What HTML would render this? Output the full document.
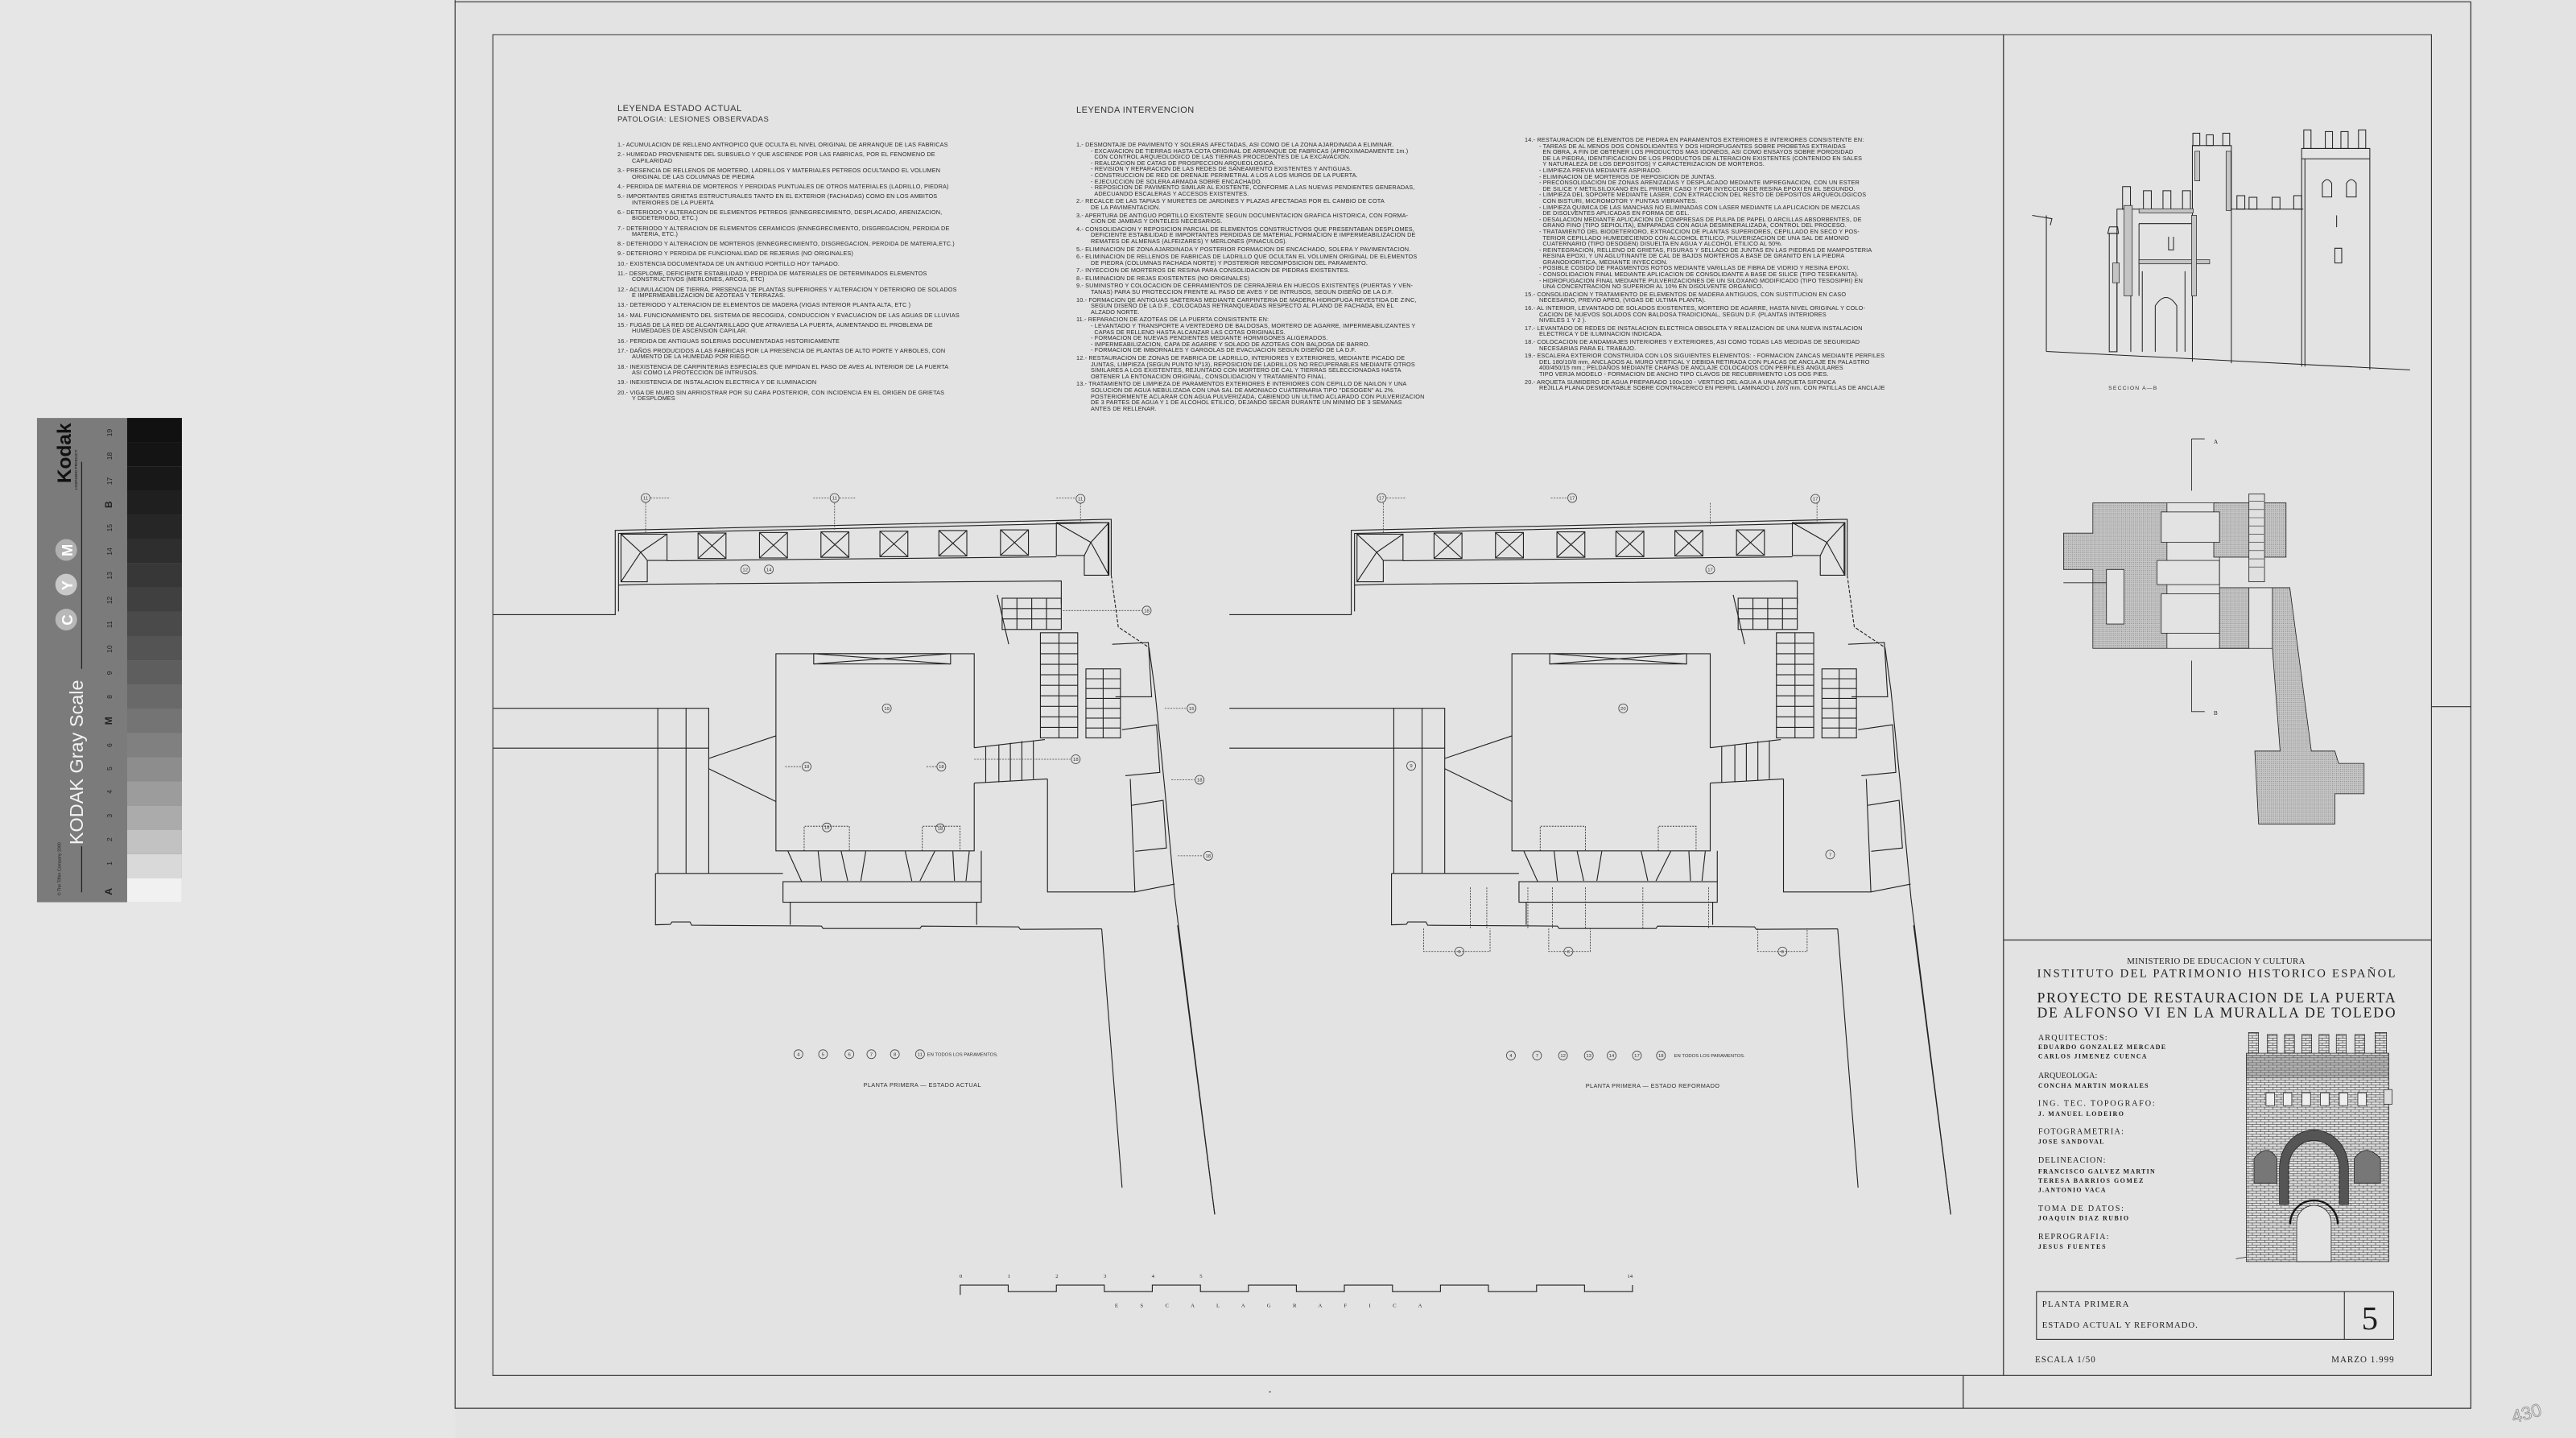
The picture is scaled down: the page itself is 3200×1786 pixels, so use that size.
<!DOCTYPE html>
<html><head><meta charset="utf-8">
<style>
html,body{margin:0;padding:0}
body{width:3200px;height:1786px;background:#e3e3e3;position:relative;overflow:hidden}
svg{position:absolute;left:0;top:0}
.lg{position:absolute;font-family:"Liberation Sans",sans-serif;font-size:7.3px;line-height:7.6px;color:#2a2a2a;white-space:nowrap;letter-spacing:0.15px}
.lg p{margin:0 0 4.6px 0;padding-left:18px;text-indent:-18px}
.lg .h{font-size:11px;line-height:14px;color:#333;letter-spacing:0.5px}
.lg .h2{font-size:9.5px;line-height:14px;color:#333;letter-spacing:0.5px;margin-bottom:20px}
.lg2 p{margin-bottom:2px}
</style></head><body>
<svg width="3200" height="1786" viewBox="0 0 1568 875" xmlns="http://www.w3.org/2000/svg">
<defs>
<pattern id="brick" width="5" height="3" patternUnits="userSpaceOnUse">
<rect width="5" height="3" fill="#e2e2e2"/>
<path d="M0 0.2H5M0 1.7H5M1 0.2V1.7M3.5 1.7V3" stroke="#333" stroke-width="0.3" fill="none"/>
</pattern>
<pattern id="dots" width="1.2" height="1.2" patternUnits="userSpaceOnUse">
<rect width="1.2" height="1.2" fill="#c6c6c6"/><rect width="0.5" height="0.5" fill="#8a8a8a"/>
</pattern>
<g id="plan" fill="none" stroke="#222" stroke-width="0.55">
<polyline points="300.3,374 374.5,374 374.5,322.7 673.5,316 676.4,316 676.4,350"/>
<polyline points="376.5,372 376.5,324.6 674.5,318 674.5,350"/>
<line x1="406" y1="341.2" x2="643" y2="338.8"/>
<polyline points="376.5,356 393,355.5 646,353.5 646,367.7"/>
<g>
<rect x="424.9" y="324.3" width="17" height="15.5"/><path d="M424.9 324.3L441.9 339.8M441.9 324.3L424.9 339.8"/>
<rect x="462.3" y="324" width="17" height="15.5"/><path d="M462.3 324L479.3 339.5M479.3 324L462.3 339.5"/>
<rect x="499.7" y="323.6" width="17" height="15.5"/><path d="M499.7 323.6L516.7 339.1M516.7 323.6L499.7 339.1"/>
<rect x="535.6" y="323.2" width="17" height="15.5"/><path d="M535.6 323.2L552.6 338.7M552.6 323.2L535.6 338.7"/>
<rect x="571.5" y="322.8" width="17" height="15.5"/><path d="M571.5 322.8L588.5 338.3M588.5 322.8L571.5 338.3"/>
<rect x="609" y="322.4" width="17" height="15.5"/><path d="M609 322.4L626 337.9M626 322.4L609 337.9"/>
</g>
<polygon points="378,325 406,325 406,341 394,341 394,354 378,354"/>
<path d="M378 325L390 336L406 325M390 336L394 341M390 336L378 354"/>
<polygon points="643,318 675,318 675,350 660,350 660,338 643,338"/>
<path d="M643 318L664 330L675 318M664 330L660 338M664 330L675 350"/>
<polyline points="676.4,350 680.7,381.5 699.4,394" stroke-dasharray="2,1"/>
<polyline points="699.4,394 703,420 709,480 715.2,546.5 739.4,739"/>
<rect x="610" y="364" width="36" height="19"/>
<path d="M610 370.3H646M610 376.6H646M619 364V383M628 364V383M637 364V383"/>
<path d="M607 362L614 392"/>
<rect x="633.3" y="385" width="22.7" height="64"/>
<path d="M633.3 391.4H656M633.3 397.8H656M633.3 404.2H656M633.3 410.6H656M633.3 417H656M633.3 423.4H656M633.3 429.8H656M633.3 436.2H656M633.3 442.6H656M644.6 385V449"/>
<rect x="661" y="407" width="21" height="42"/>
<path d="M661 413H682M661 419H682M661 425H682M661 431H682M661 437H682M661 443H682M671.5 407V449"/>
<polyline points="677,392 699,391 701,424 679,424"/>
<polyline points="683,444 704,441 706,470 685,472"/>
<polyline points="689,490 708,487 710,516 691,518"/>
<polyline points="637.6,474 637.6,542.75 690.8,542.75 715,538"/>
<line x1="690.8" y1="542.75" x2="688" y2="474"/>
<polyline points="593,455 593,397.75 472.3,397.75 472.3,517.75 593,517.75 593,476.5"/>
<rect x="495.3" y="397.75" width="83.3" height="6.25"/>
<path d="M495.3 397.75L578.6 404M578.6 397.75L495.3 404"/>
<path d="M593 455L636 450M593 476.5L637.6 474M600 454V476M608 453V476M615 452V475M622 451V475M629 451V474"/>
<path d="M300.3 431H431.4V531.5M300.3 455.25H431.4M400.4 431V531.5M417.6 431V531.5"/>
<path d="M431.4 461.5L472.3 447.75M431.4 467.75L472.3 487.75"/>
<polyline points="399,531.5 399,562.75 408,562.5 409,561 420,561 421,563 500,563.5 501,565 560,565 561,563.5 620,564 621,565.5 670.6,565.25"/>
<line x1="399" y1="531.5" x2="476.6" y2="531.5"/>
<rect x="476.6" y="536.5" width="120.7" height="12.5"/>
<path d="M481 549V562.75M594.5 549V562.75"/>
<path d="M479.5 517.75L488 536.5M498 518L500 536M512 518L516 536M524 536L527 518M551 518L555 536M560 536L569 518M580 518L581 536M590 518L588 536M597.3 536.5L597.3 517.75"/>
<path d="M489.5 517.75V502.75H517V517.75M561.4 517.75V502.75H584.4V517.75" stroke-dasharray="1,0.7" stroke-width="0.4"/>
<polyline points="670.6,565.25 683,722.7"/>
</g>
</defs>

<rect x="0" y="0" width="277" height="875" fill="#e6e6e6"/>
<g fill="none" stroke="#333" stroke-width="0.6">
<path d="M277 0V857H1504V1M277 1H1504"/>
<path d="M300 21H1480V837H300Z" stroke-width="0.55"/>
<path d="M1219.5 21V837M1219.5 572H1480M1480 430H1504M1195 837V857"/>
</g>

<rect x="22.5" y="254.3" width="88.2" height="294.7" fill="#7b7b7b"/>
<g>
<rect x="77.4" y="254.3" width="33.3" height="14.75" fill="#111"/>
<rect x="77.4" y="269" width="33.3" height="14.75" fill="#141414"/>
<rect x="77.4" y="283.8" width="33.3" height="14.75" fill="#181818"/>
<rect x="77.4" y="298.5" width="33.3" height="14.75" fill="#1f1f1f"/>
<rect x="77.4" y="313.3" width="33.3" height="14.75" fill="#262626"/>
<rect x="77.4" y="328" width="33.3" height="14.75" fill="#2e2e2e"/>
<rect x="77.4" y="342.8" width="33.3" height="14.75" fill="#373737"/>
<rect x="77.4" y="357.5" width="33.3" height="14.75" fill="#404040"/>
<rect x="77.4" y="372.3" width="33.3" height="14.75" fill="#4a4a4a"/>
<rect x="77.4" y="387" width="33.3" height="14.75" fill="#545454"/>
<rect x="77.4" y="401.8" width="33.3" height="14.75" fill="#5e5e5e"/>
<rect x="77.4" y="416.5" width="33.3" height="14.75" fill="#696969"/>
<rect x="77.4" y="431.3" width="33.3" height="14.75" fill="#747474"/>
<rect x="77.4" y="446" width="33.3" height="14.75" fill="#808080"/>
<rect x="77.4" y="460.8" width="33.3" height="14.75" fill="#8d8d8d"/>
<rect x="77.4" y="475.5" width="33.3" height="14.75" fill="#9c9c9c"/>
<rect x="77.4" y="490.3" width="33.3" height="14.75" fill="#ababab"/>
<rect x="77.4" y="505" width="33.3" height="14.75" fill="#c2c2c2"/>
<rect x="77.4" y="519.8" width="33.3" height="14.75" fill="#d9d9d9"/>
<rect x="77.4" y="534.5" width="33.3" height="14.5" fill="#f1f1f1"/>
</g>
<g font-family="Liberation Sans, sans-serif">
<text transform="translate(50.5,514) rotate(-90)" font-size="11.5" fill="#f2f2f2">KODAK Gray Scale</text>
<text transform="translate(43,294) rotate(-90)" font-size="12" font-weight="bold" fill="#111">Kodak</text>
<text transform="translate(47,298) rotate(-90)" font-size="2.4" fill="#111">LICENSED PRODUCT</text>
<text transform="translate(37,545) rotate(-90)" font-size="2.6" fill="#222">© The Tiffen Company 2000</text>
<circle cx="40.3" cy="377" r="6.6" fill="#b8b8b8"/><circle cx="40.3" cy="355.7" r="6.6" fill="#c8c8c8"/><circle cx="40.3" cy="334.6" r="6.6" fill="#b0b0b0"/>
<text transform="translate(44,380.5) rotate(-90)" font-size="9" font-weight="bold" fill="#fff">C</text>
<text transform="translate(44,359.2) rotate(-90)" font-size="9" font-weight="bold" fill="#fff">Y</text>
<text transform="translate(44,338.5) rotate(-90)" font-size="9" font-weight="bold" fill="#fff">M</text>
<path d="M49.7 281V407M49.7 515V543" stroke="#222" stroke-width="0.6"/>
<g font-size="4.2" fill="#222" text-anchor="middle">
<text transform="translate(68,542.5) rotate(-90)" font-weight="bold" font-size="6">A</text>
<text transform="translate(68,525.4) rotate(-90)">1</text>
<text transform="translate(68,510.8) rotate(-90)">2</text>
<text transform="translate(68,496.4) rotate(-90)">3</text>
<text transform="translate(68,481.8) rotate(-90)">4</text>
<text transform="translate(68,467.7) rotate(-90)">5</text>
<text transform="translate(68,453.5) rotate(-90)">6</text>
<text transform="translate(68,438.6) rotate(-90)" font-weight="bold" font-size="6">M</text>
<text transform="translate(68,424) rotate(-90)">8</text>
<text transform="translate(68,409.5) rotate(-90)">9</text>
<text transform="translate(68,394.9) rotate(-90)">10</text>
<text transform="translate(68,380) rotate(-90)">11</text>
<text transform="translate(68,365.2) rotate(-90)">12</text>
<text transform="translate(68,350.2) rotate(-90)">13</text>
<text transform="translate(68,335.6) rotate(-90)">14</text>
<text transform="translate(68,321.2) rotate(-90)">15</text>
<text transform="translate(68,307) rotate(-90)" font-weight="bold" font-size="6">B</text>
<text transform="translate(68,292.7) rotate(-90)">17</text>
<text transform="translate(68,277.5) rotate(-90)">18</text>
<text transform="translate(68,263.3) rotate(-90)">19</text>
</g>
</g>

<use href="#plan"/>
<use href="#plan" x="448"/>
<path d="M716.8 563L739.4 739" stroke="#222" stroke-width="0.55" fill="none"/>
<path d="M1164.8 563L1187.4 739" stroke="#222" stroke-width="0.55" fill="none"/>
<g fill="none" stroke="#333" stroke-width="0.4" stroke-dasharray="1,0.7">
<path d="M866.6 565V579H907V565M942.7 565V579H968V565M1070 565V579H1100V565"/>
<path d="M895 540V565M905 540V565M930 540V565M945 540V565M965 540V565M1000 540V565M1040 540V565"/>
</g>

<g font-family="Liberation Sans, sans-serif" font-size="2.9" fill="#333" text-anchor="middle">
<g fill="none" stroke="#444" stroke-width="0.4">
<path d="M396 303H408M393 306V324M495 303H505M511 303H521M508 306V323M643 303H654.7M657.7 306V318" stroke-dasharray="1,0.7"/>
<path d="M647 371.5H695M709 431H722M713 474.5H727M717 520.75H732M593 462H651.5M478 466.5H488M564 466.5H570" stroke-dasharray="1,0.7"/>
<path d="M844 303H856M842 306V324M944 303H954M1106 306V318M1041 306V320" stroke-dasharray="1,0.7"/>
<circle cx="393" cy="303" r="2.7"/><circle cx="508" cy="303" r="2.7"/><circle cx="657.7" cy="303.5" r="2.7"/>
<circle cx="453.6" cy="346.5" r="2.7"/><circle cx="468" cy="346.5" r="2.7"/>
<circle cx="698" cy="371.5" r="2.7"/><circle cx="725.3" cy="431" r="2.7"/><circle cx="730.2" cy="474.5" r="2.7"/><circle cx="735.4" cy="520.75" r="2.7"/>
<circle cx="654.8" cy="462" r="2.7"/><circle cx="491" cy="466.5" r="2.7"/><circle cx="573" cy="466.5" r="2.7"/><circle cx="539.8" cy="431" r="2.7"/>
<circle cx="503.3" cy="503.5" r="2.7"/><circle cx="572.3" cy="504" r="2.7"/>
<circle cx="486" cy="641.5" r="2.7"/><circle cx="501" cy="641.5" r="2.7"/><circle cx="517" cy="641.5" r="2.7"/><circle cx="530.4" cy="641.5" r="2.7"/><circle cx="544.7" cy="641.5" r="2.7"/><circle cx="560" cy="641.5" r="2.7"/>
<circle cx="841" cy="303" r="2.7"/><circle cx="957" cy="303" r="2.7"/><circle cx="1105" cy="303.5" r="2.7"/>
<circle cx="1041" cy="346.5" r="2.7"/><circle cx="859" cy="466" r="2.7"/><circle cx="988" cy="431" r="2.7"/><circle cx="1114" cy="520" r="2.7"/>
<circle cx="888.3" cy="579" r="2.7"/><circle cx="954.7" cy="579" r="2.7"/><circle cx="1085" cy="579" r="2.7"/>
<circle cx="919.7" cy="642.3" r="2.7"/><circle cx="935.6" cy="642.3" r="2.7"/><circle cx="951.4" cy="642.3" r="2.7"/><circle cx="967.1" cy="642.3" r="2.7"/><circle cx="981" cy="642.3" r="2.7"/><circle cx="996.4" cy="642.3" r="2.7"/><circle cx="1011" cy="642.3" r="2.7"/>
</g>
<text x="393" y="304">11</text><text x="508" y="304">11</text><text x="657.7" y="304.5">11</text>
<text x="453.6" y="347.5">12</text><text x="468" y="347.5">14</text>
<text x="698" y="372.5">18</text><text x="725.3" y="432">15</text><text x="730.2" y="475.5">18</text><text x="735.4" y="521.75">18</text>
<text x="654.8" y="463">18</text><text x="491" y="467.5">18</text><text x="573" y="467.5">18</text><text x="539.8" y="432">19</text>
<text x="503.3" y="504.5">18</text><text x="572.3" y="505">18</text>
<text x="486" y="642.5">4</text><text x="501" y="642.5">5</text><text x="517" y="642.5">6</text><text x="530.4" y="642.5">7</text><text x="544.7" y="642.5">8</text><text x="560" y="642.5">11</text>
<text x="841" y="304">17</text><text x="957" y="304">17</text><text x="1105" y="304.5">17</text>
<text x="1041" y="347.5">17</text><text x="859" y="467">9</text><text x="988" y="432">20</text><text x="1114" y="521">7</text>
<text x="888.3" y="580">6</text><text x="954.7" y="580">6</text><text x="1085" y="580">6</text>
<text x="919.7" y="643.3">4</text><text x="935.6" y="643.3">7</text><text x="951.4" y="643.3">12</text><text x="967.1" y="643.3">13</text><text x="981" y="643.3">14</text><text x="996.4" y="643.3">17</text><text x="1011" y="643.3">18</text>
<g text-anchor="start" font-size="2.9">
<text x="564.3" y="642.6">EN TODOS LOS PARAMENTOS.</text>
<text x="1019" y="643.4">EN TODOS LOS PARAMENTOS.</text>
</g>
<text x="561.4" y="661.5" font-size="3.6" letter-spacing="0.2">PLANTA PRIMERA  —  ESTADO ACTUAL</text>
<text x="1006" y="662" font-size="3.6" letter-spacing="0.2">PLANTA PRIMERA  —  ESTADO REFORMADO</text>
</g>

<polyline fill="none" stroke="#222" stroke-width="0.55" points="584.5,788 584.5,782 613.7,782 613.7,786 643.0,786 643.0,782 672.2,782 672.2,786 701.4,786 701.4,782 730.7,782 730.7,786 759.9,786 759.9,782 789.1,782 789.1,786 818.3,786 818.3,782 847.6,782 847.6,786 876.8,786 876.8,782 906.0,782 906.0,786 935.3,786 935.3,782 964.5,782 964.5,786 993.7,786 993.7,782"/>
<g font-family="Liberation Serif, serif" font-size="3.3" fill="#222">
<text x="584" y="777.6">0</text><text x="613.3" y="777.6">1</text><text x="642.5" y="777.6">2</text><text x="671.8" y="777.6">3</text><text x="701" y="777.6">4</text><text x="730.2" y="777.6">5</text><text x="990.5" y="777.6">14</text>
<text x="678.6" y="795.5" textLength="187" lengthAdjust="spacing">E S C A L A   G R A F I C A</text>
</g>
<circle cx="773" cy="847" r="0.5" fill="#555"/>

<g fill="none" stroke="#222" stroke-width="0.5">
<path d="M1245.6 213.8L1467 225M1245.6 131V213.8M1237 131L1249 133L1248 137"/>
<rect x="1283.9" y="142" width="4.7" height="72"/>
<path d="M1283 142H1289.5L1289 138H1284Z"/>
<polyline points="1288.6,214 1288.6,127.2 1334.5,127.2"/>
<rect x="1292" y="113.5" width="4.8" height="13.7"/><rect x="1304.7" y="116" width="4.8" height="11.2"/><rect x="1316.6" y="116" width="4.8" height="11.2"/><rect x="1328.5" y="116" width="4.8" height="11.2"/>
<polyline points="1334.5,220 1334.5,88.5 1358.2,88.5 1358.2,221"/>
<rect x="1334.8" y="81" width="4.2" height="7.5"/><rect x="1343" y="82" width="4.2" height="6.5"/><rect x="1353" y="81" width="4.2" height="7.5"/>
<polyline points="1358.2,127.2 1402,127.2"/>
<rect x="1361.6" y="119" width="4.8" height="8.2"/><rect x="1369" y="120" width="4.8" height="7.2"/><rect x="1383" y="120" width="4.8" height="7.2"/><rect x="1396.2" y="119" width="4.8" height="8.2"/>
<polyline points="1401,223 1401,90.3 1442.5,90.3 1442.5,225"/>
<path d="M1401 96.6H1442.5M1403 96.6V223"/>
<rect x="1402.3" y="79" width="4.4" height="11.3"/><rect x="1415.4" y="80" width="4.4" height="10.3"/><rect x="1424.9" y="80" width="4.4" height="10.3"/><rect x="1435.6" y="79" width="4.4" height="11.3"/>
<path d="M1413.6 119.8V111.5Q1416.5 107 1419.3 111.5V119.8ZM1428.3 119.8V111.5Q1431.2 107 1434.2 111.5V119.8Z"/>
<path d="M1422.3 131V138.2M1421.2 151H1425.4V160H1421.2Z"/>
<path d="M1302 136H1334M1302 136V180M1302 160H1345M1311.9 214V186Q1318.5 176 1325 186V214M1320 144V152H1323V144"/>
<path d="M1297 140V214M1304 165V214M1330 165V214"/>
</g>
<g fill="#c4c4c4" stroke="#222" stroke-width="0.35">
<rect x="1292.9" y="125" width="5" height="55"/>
<rect x="1302" y="127" width="33" height="2.5"/>
<rect x="1336" y="92" width="3" height="18"/>
<rect x="1355" y="92" width="3" height="36"/>
<rect x="1302" y="158" width="43" height="2.5"/>
<rect x="1334" y="131" width="3" height="49"/>
<rect x="1286" y="160" width="4" height="12"/>
</g>
<text x="1283.4" y="237" font-family="Liberation Sans, sans-serif" font-size="3.3" fill="#333" letter-spacing="0.6">SECCION   A—B</text>

<g stroke="#222" stroke-width="0.4">
<path fill="url(#dots)" d="M1256.1 324.4H1273.9V306H1319V394.5H1273.9V346.5H1256.1Z M1282.2 346.5V379.7H1292.9V346.5Z" fill-rule="evenodd"/>
<rect x="1347.5" y="306" width="44" height="33" fill="url(#dots)"/>
<rect x="1368.9" y="300.5" width="9.5" height="53.5" fill="#e0e0e0"/>
<path d="M1369 305H1378M1369 310H1378M1369 315H1378M1369 320H1378M1369 325H1378M1369 330H1378M1369 335H1378M1369 340H1378M1369 345H1378" fill="none" stroke-width="0.3"/>
<rect x="1351" y="357.6" width="17.9" height="36.9" fill="url(#dots)"/>
<polygon points="1383.2,357.6 1393.8,357.6 1406.9,457 1421.2,457 1423.5,464.5 1439,464.5 1439,483 1421.2,483 1421.2,501.4 1374.8,501.4 1372.5,457 1387.9,457 1383.2,394.5" fill="url(#dots)"/>
<g fill="none">
<rect x="1315.5" y="311.5" width="35.5" height="18.5" fill="#e3e3e3"/><rect x="1313" y="341" width="38" height="14.7" fill="#e3e3e3"/><rect x="1315.5" y="361.3" width="35.5" height="24" fill="#e3e3e3"/>
<path d="M1319 306H1351M1319 394.5H1383M1256 354.6H1282M1351 339V357.6M1368.9 357.6H1383"/>
<path d="M1334 267H1342M1334 267V298.6M1334 402V433H1342"/>
</g>
</g>
<g font-family="Liberation Serif, serif" font-size="3.5" fill="#222"><text x="1347.5" y="270">A</text><text x="1347.5" y="435">B</text></g>

<g font-family="Liberation Serif, serif" fill="#1e1e1e">
<text x="1349" y="586.5" font-size="5.3" text-anchor="middle" letter-spacing="0.2">MINISTERIO DE EDUCACION Y CULTURA</text>
<text x="1240" y="594.5" font-size="7.2" textLength="218" lengthAdjust="spacing">INSTITUTO DEL PATRIMONIO HISTORICO ESPAÑOL</text>
<text x="1240" y="610" font-size="8.6" textLength="218" lengthAdjust="spacing">PROYECTO DE RESTAURACION DE LA PUERTA</text>
<text x="1240" y="619" font-size="8.6" textLength="218" lengthAdjust="spacing">DE ALFONSO VI EN LA MURALLA DE TOLEDO</text>
<g font-size="5">
<text x="1240.6" y="633" textLength="42" lengthAdjust="spacing">ARQUITECTOS:</text>
<text x="1240.6" y="656" textLength="36" lengthAdjust="spacing">ARQUEOLOGA:</text>
<text x="1240.6" y="673" textLength="71" lengthAdjust="spacing">ING. TEC. TOPOGRAFO:</text>
<text x="1240.6" y="690" textLength="52" lengthAdjust="spacing">FOTOGRAMETRIA:</text>
<text x="1240.6" y="707.5" textLength="41" lengthAdjust="spacing">DELINEACION:</text>
<text x="1240.6" y="737" textLength="52" lengthAdjust="spacing">TOMA DE DATOS:</text>
<text x="1240.6" y="754" textLength="43" lengthAdjust="spacing">REPROGRAFIA:</text>
</g>
<g font-size="3.9" font-weight="bold">
<text x="1240.6" y="638.5" textLength="77.5" lengthAdjust="spacing">EDUARDO GONZALEZ MERCADE</text>
<text x="1240.6" y="644" textLength="66" lengthAdjust="spacing">CARLOS JIMENEZ CUENCA</text>
<text x="1240.6" y="662" textLength="67" lengthAdjust="spacing">CONCHA MARTIN MORALES</text>
<text x="1240.6" y="679" textLength="52" lengthAdjust="spacing">J. MANUEL LODEIRO</text>
<text x="1240.6" y="696" textLength="40" lengthAdjust="spacing">JOSE SANDOVAL</text>
<text x="1240.6" y="714" textLength="71" lengthAdjust="spacing">FRANCISCO GALVEZ MARTIN</text>
<text x="1240.6" y="719.7" textLength="64" lengthAdjust="spacing">TERESA BARRIOS GOMEZ</text>
<text x="1240.6" y="725.3" textLength="41" lengthAdjust="spacing">J.ANTONIO VACA</text>
<text x="1240.6" y="742.6" textLength="55" lengthAdjust="spacing">JOAQUIN DIAZ RUBIO</text>
<text x="1240.6" y="760" textLength="41" lengthAdjust="spacing">JESUS FUENTES</text>
</g>
<rect x="1239.6" y="786" width="217.4" height="29" fill="none" stroke="#222" stroke-width="0.5"/>
<line x1="1427" y1="786" x2="1427" y2="815" stroke="#222" stroke-width="0.5"/>
<text x="1243" y="795.3" font-size="5.3" letter-spacing="0.6">PLANTA PRIMERA</text>
<text x="1243" y="808" font-size="5.3" letter-spacing="0.45">ESTADO ACTUAL Y REFORMADO.</text>
<text x="1442.5" y="809" font-size="20" text-anchor="middle">5</text>
<text x="1238.7" y="829" font-size="5.4" letter-spacing="0.5">ESCALA 1/50</text>
<text x="1457.6" y="829" font-size="5.4" text-anchor="end" letter-spacing="0.5">MARZO 1.999</text>
</g>
<g stroke="#1a1a1a" stroke-width="0.35">
<rect x="1367.3" y="640.9" width="86.7" height="126.8" fill="url(#brick)"/>
<rect x="1368.7" y="628.3" width="6" height="12.6" fill="url(#brick)"/><rect x="1380.1" y="629.5" width="6" height="11.4" fill="url(#brick)"/><rect x="1390.6" y="629.5" width="6" height="11.4" fill="url(#brick)"/><rect x="1401.1" y="629.5" width="6" height="11.4" fill="url(#brick)"/><rect x="1411.6" y="629.5" width="6" height="11.4" fill="url(#brick)"/><rect x="1422.1" y="629.5" width="6" height="11.4" fill="url(#brick)"/><rect x="1433.4" y="629.5" width="6" height="11.4" fill="url(#brick)"/><rect x="1445.7" y="628.3" width="7" height="12.6" fill="url(#brick)"/>
<rect x="1367.3" y="642" width="86.7" height="14" fill="#6e6e6e" opacity="0.35"/>
<g fill="#eee"><rect x="1379.3" y="665" width="5.2" height="7.8"/><rect x="1389.8" y="665" width="5.2" height="7.8"/><rect x="1401.2" y="665" width="5.2" height="7.8"/><rect x="1412.5" y="665" width="5.2" height="7.8"/><rect x="1423.9" y="665" width="5.2" height="7.8"/><rect x="1435.2" y="665" width="5.2" height="7.8"/></g>
<path d="M1387.5 733V710.6A21 23 0 0 1 1429.5 710.6V733H1424V711A15.5 17 0 0 0 1393 711V733Z" fill="#555"/>
<path d="M1372 705Q1380 695 1386 705V720H1372ZM1433 705Q1440 695 1449 705V720H1433Z" fill="#777"/>
<path d="M1398 767.7V744A10.5 10.5 0 0 1 1419 744V767.7Z" fill="#e4e4e4"/>
<path d="M1394 745A14.5 14.5 0 0 1 1423 745" fill="none" stroke-width="1.2"/>
<rect x="1451" y="663" width="5" height="9" fill="#ddd"/>
<path d="M1361 766L1367.3 765" fill="none"/>
</g>
<text transform="translate(1530,866) rotate(-15)" font-family="Liberation Sans, sans-serif" font-size="11" fill="none" stroke="#888" stroke-width="0.35">430</text>
</svg>

<div class="lg" style="left:767px;top:128px">
<div class="h">LEYENDA ESTADO ACTUAL</div>
<div class="h2">PATOLOGIA: LESIONES OBSERVADAS</div>
<p>1.- ACUMULACION DE RELLENO ANTROPICO QUE OCULTA EL NIVEL ORIGINAL DE ARRANQUE DE LAS FABRICAS</p>
<p>2.- HUMEDAD PROVENIENTE DEL SUBSUELO Y QUE ASCIENDE POR LAS FABRICAS, POR EL FENOMENO DE<br>CAPILARIDAD</p>
<p>3.- PRESENCIA DE RELLENOS DE MORTERO, LADRILLOS Y MATERIALES PETREOS OCULTANDO EL VOLUMEN<br>ORIGINAL DE LAS COLUMNAS DE PIEDRA</p>
<p>4.- PERDIDA DE MATERIA DE MORTEROS Y PERDIDAS PUNTUALES DE OTROS MATERIALES (LADRILLO, PIEDRA)</p>
<p>5.- IMPORTANTES GRIETAS ESTRUCTURALES TANTO EN EL EXTERIOR (FACHADAS) COMO EN LOS AMBITOS<br>INTERIORES DE LA PUERTA</p>
<p>6.- DETERIODO Y ALTERACION DE ELEMENTOS PETREOS (ENNEGRECIMIENTO, DESPLACADO, ARENIZACION,<br>BIODETERIODO, ETC.)</p>
<p>7.- DETERIODO Y ALTERACION DE ELEMENTOS CERAMICOS (ENNEGRECIMIENTO, DISGREGACION, PERDIDA DE<br>MATERIA, ETC.)</p>
<p>8.- DETERIODO Y ALTERACION DE MORTEROS (ENNEGRECIMIENTO, DISGREGACION, PERDIDA DE MATERIA,ETC.)</p>
<p>9.- DETERIORO Y PERDIDA DE FUNCIONALIDAD DE REJERIAS (NO ORIGINALES)</p>
<p>10.- EXISTENCIA DOCUMENTADA DE UN ANTIGUO PORTILLO HOY TAPIADO.</p>
<p>11.- DESPLOME, DEFICIENTE ESTABILIDAD Y PERDIDA DE MATERIALES DE DETERMINADOS ELEMENTOS<br>CONSTRUCTIVOS (MERLONES, ARCOS, ETC)</p>
<p>12.- ACUMULACION DE TIERRA, PRESENCIA DE PLANTAS SUPERIORES Y ALTERACION Y DETERIORO DE SOLADOS<br>E IMPERMEABILIZACION DE AZOTEAS Y TERRAZAS.</p>
<p>13.- DETERIODO Y ALTERACION DE ELEMENTOS DE MADERA (VIGAS INTERIOR PLANTA ALTA, ETC )</p>
<p>14.- MAL FUNCIONAMIENTO DEL SISTEMA DE RECOGIDA, CONDUCCION Y EVACUACION DE LAS AGUAS DE LLUVIAS</p>
<p>15.- FUGAS DE LA RED DE ALCANTARILLADO QUE ATRAVIESA LA PUERTA, AUMENTANDO EL PROBLEMA DE<br>HUMEDADES DE ASCENSION CAPILAR.</p>
<p>16.- PERDIDA DE ANTIGUAS SOLERIAS DOCUMENTADAS HISTORICAMENTE</p>
<p>17.- DAÑOS PRODUCIDOS A LAS FABRICAS POR LA PRESENCIA DE PLANTAS DE ALTO PORTE Y ARBOLES, CON<br>AUMENTO DE LA HUMEDAD POR RIEGO.</p>
<p>18.- INEXISTENCIA DE CARPINTERIAS ESPECIALES QUE IMPIDAN EL PASO DE AVES AL INTERIOR DE LA PUERTA<br>ASI COMO LA PROTECCION DE INTRUSOS.</p>
<p>19.- INEXISTENCIA DE INSTALACION ELECTRICA Y DE ILUMINACION</p>
<p>20.- VIGA DE MURO SIN ARRIOSTRAR POR SU CARA POSTERIOR, CON INCIDENCIA EN EL ORIGEN DE GRIETAS<br>Y DESPLOMES</p>
</div>

<div class="lg lg2" style="left:1337px;top:130px">
<div class="h" style="margin-bottom:32px">LEYENDA INTERVENCION</div>
<p>1.- DESMONTAJE DE PAVIMENTO Y SOLERAS AFECTADAS, ASI COMO DE LA ZONA AJARDINADA A ELIMINAR.<br>- EXCAVACION DE TIERRAS HASTA COTA ORIGINAL DE ARRANQUE DE FABRICAS (APROXIMADAMENTE 1m.)<br>&nbsp;&nbsp;CON CONTROL ARQUEOLOGICO DE LAS TIERRAS PROCEDENTES DE LA EXCAVACION.<br>- REALIZACION DE CATAS DE PROSPECCION ARQUEOLOGICA.<br>- REVISION Y REPARACION DE LAS REDES DE SANEAMIENTO EXISTENTES Y ANTIGUAS.<br>- CONSTRUCCION DE RED DE DRENAJE PERIMETRAL A LOS A LOS MUROS DE LA PUERTA.<br>- EJECUCCION DE SOLERA ARMADA SOBRE ENCACHADO.<br>- REPOSICION DE PAVIMENTO SIMILAR AL EXISTENTE, CONFORME A LAS NUEVAS PENDIENTES GENERADAS,<br>&nbsp;&nbsp;ADECUANDO ESCALERAS Y ACCESOS EXISTENTES.</p>
<p>2.- RECALCE DE LAS TAPIAS Y MURETES DE JARDINES Y PLAZAS AFECTADAS POR EL CAMBIO DE COTA<br>DE LA PAVIMENTACION.</p>
<p>3.- APERTURA DE ANTIGUO PORTILLO EXISTENTE SEGUN DOCUMENTACION GRAFICA HISTORICA, CON FORMA-<br>CION DE JAMBAS Y DINTELES NECESARIOS.</p>
<p>4.- CONSOLIDACION Y REPOSICION PARCIAL DE ELEMENTOS CONSTRUCTIVOS QUE PRESENTABAN DESPLOMES,<br>DEFICIENTE ESTABILIDAD E IMPORTANTES PERDIDAS DE MATERIAL.FORMACION E IMPERMEABILIZACION DE<br>REMATES DE ALMENAS (ALFEIZARES) Y MERLONES (PINACULOS).</p>
<p>5.- ELIMINACION DE ZONA AJARDINADA Y POSTERIOR FORMACION DE ENCACHADO, SOLERA Y PAVIMENTACION.</p>
<p>6.- ELIMINACION DE RELLENOS DE FABRICAS DE LADRILLO QUE OCULTAN EL VOLUMEN ORIGINAL DE ELEMENTOS<br>DE PIEDRA (COLUMNAS FACHADA NORTE) Y POSTERIOR RECOMPOSICION DEL PARAMENTO.</p>
<p>7.- INYECCION DE MORTEROS DE RESINA PARA CONSOLIDACION DE PIEDRAS EXISTENTES.</p>
<p>8.- ELIMINACION DE REJAS EXISTENTES (NO ORIGINALES)</p>
<p>9.- SUMINISTRO Y COLOCACION DE CERRAMIENTOS DE CERRAJERIA EN HUECOS EXISTENTES (PUERTAS Y VEN-<br>TANAS) PARA SU PROTECCION FRENTE AL PASO DE AVES Y DE INTRUSOS, SEGUN DISEÑO DE LA D.F.</p>
<p>10.- FORMACION DE ANTIGUAS SAETERAS MEDIANTE CARPINTERIA DE MADERA HIDROFUGA REVESTIDA DE ZINC,<br>SEGUN DISEÑO DE LA D.F., COLOCADAS RETRANQUEADAS RESPECTO AL PLANO DE FACHADA, EN EL<br>ALZADO NORTE.</p>
<p>11.- REPARACION DE AZOTEAS DE LA PUERTA CONSISTENTE EN:<br>- LEVANTADO Y TRANSPORTE A VERTEDERO DE BALDOSAS, MORTERO DE AGARRE, IMPERMEABILIZANTES Y<br>&nbsp;&nbsp;CAPAS DE RELLENO HASTA ALCANZAR LAS COTAS ORIGINALES.<br>- FORMACION DE NUEVAS PENDIENTES MEDIANTE HORMIGONES ALIGERADOS.<br>- IMPERMEABILIZACION, CAPA DE AGARRE Y SOLADO DE AZOTEAS CON BALDOSA DE BARRO.<br>- FORMACION DE IMBORNALES Y GARGOLAS DE EVACUACION SEGUN DISEÑO DE LA D.F.</p>
<p>12.- RESTAURACION DE ZONAS DE FABRICA DE LADRILLO, INTERIORES Y EXTERIORES, MEDIANTE PICADO DE<br>JUNTAS, LIMPIEZA (SEGUN PUNTO Nº13), REPOSICION DE LADRILLOS NO RECUPERABLES MEDIANTE OTROS<br>SIMILARES A LOS EXISTENTES, REJUNTADO CON MORTERO DE CAL Y TIERRAS SELECCIONADAS HASTA<br>OBTENER LA ENTONACION ORIGINAL, CONSOLIDACION Y TRATAMIENTO FINAL.</p>
<p>13.- TRATAMIENTO DE LIMPIEZA DE PARAMENTOS EXTERIORES E INTERIORES CON CEPILLO DE NAILON Y UNA<br>SOLUCION DE AGUA NEBULIZADA CON UNA SAL DE AMONIACO CUATERNARIA TIPO "DESOGEN" AL 2%.<br>POSTERIORMENTE ACLARAR CON AGUA PULVERIZADA, CABIENDO UN ULTIMO ACLARADO CON PULVERIZACION<br>DE 3 PARTES DE AGUA Y 1 DE ALCOHOL ETILICO, DEJANDO SECAR DURANTE UN MINIMO DE 3 SEMANAS<br>ANTES DE RELLENAR.</p>
</div>

<div class="lg lg2" style="left:1894px;top:170px">
<p>14.- RESTAURACION DE ELEMENTOS DE PIEDRA EN PARAMENTOS EXTERIORES E INTERIORES CONSISTENTE EN:<br>- TAREAS DE AL MENOS DOS CONSOLIDANTES Y DOS HIDROFUGANTES SOBRE PROBETAS EXTRAIDAS<br>&nbsp;&nbsp;EN OBRA, A FIN DE OBTENER LOS PRODUCTOS MAS IDONEOS, ASI COMO ENSAYOS SOBRE POROSIDAD<br>&nbsp;&nbsp;DE LA PIEDRA, IDENTIFICACION DE LOS PRODUCTOS DE ALTERACION EXISTENTES (CONTENIDO EN SALES<br>&nbsp;&nbsp;Y NATURALEZA DE LOS DEPOSITOS) Y CARACTERIZACION DE MORTEROS.<br>- LIMPIEZA PREVIA MEDIANTE ASPIRADO.<br>- ELIMINACION DE MORTEROS DE REPOSICION DE JUNTAS.<br>- PRECONSOLIDACION DE ZONAS ARENIZADAS Y DESPLACADO MEDIANTE IMPREGNACION, CON UN ESTER<br>&nbsp;&nbsp;DE SILICE Y METILSILOXANO EN EL PRIMER CASO Y POR INYECCION DE RESINA EPOXI EN EL SEGUNDO.<br>- LIMPIEZA DEL SOPORTE MEDIANTE LASER, CON EXTRACCION DEL RESTO DE DEPOSITOS ARQUEOLOGICOS<br>&nbsp;&nbsp;CON BISTURI, MICROMOTOR Y PUNTAS VIBRANTES.<br>- LIMPIEZA QUIMICA DE LAS MANCHAS NO ELIMINADAS CON LASER MEDIANTE LA APLICACION DE MEZCLAS<br>&nbsp;&nbsp;DE DISOLVENTES APLICADAS EN FORMA DE GEL.<br>- DESALACION MEDIANTE APLICACION DE COMPRESAS DE PULPA DE PAPEL O ARCILLAS ABSORBENTES, DE<br>&nbsp;&nbsp;GRANO FINO (TIPO SEPIOLITA), EMPAPADAS CON AGUA DESMINERALIZADA, CONTROL DEL PROCESO.<br>- TRATAMIENTO DEL BIODETERIORO, EXTRACCION DE PLANTAS SUPERIORES, CEPILLADO EN SECO Y POS-<br>&nbsp;&nbsp;TERIOR CEPILLADO HUMEDECIENDO CON ALCOHOL ETILICO, PULVERIZACION DE UNA SAL DE AMONIO<br>&nbsp;&nbsp;CUATERNARIO (TIPO DESOGEN) DISUELTA EN AGUA Y ALCOHOL ETILICO AL 50%.<br>- REINTEGRACION, RELLENO DE GRIETAS, FISURAS Y SELLADO DE JUNTAS EN LAS PIEDRAS DE MAMPOSTERIA<br>&nbsp;&nbsp;RESINA EPOXI, Y UN AGLUTINANTE DE CAL DE BAJOS MORTEROS A BASE DE GRANITO EN LA PIEDRA<br>&nbsp;&nbsp;GRANODIORITICA, MEDIANTE INYECCION.<br>- POSIBLE COSIDO DE FRAGMENTOS ROTOS MEDIANTE VARILLAS DE FIBRA DE VIDRIO Y RESINA EPOXI.<br>- CONSOLIDACION FINAL MEDIANTE APLICACION DE CONSOLIDANTE A BASE DE SILICE (TIPO TESEKANITA).<br>- HIDROFUGACION FINAL MEDIANTE PULVERIZACIONES DE UN SILOXANO MODIFICADO (TIPO TESOSIPRI) EN<br>&nbsp;&nbsp;UNA CONCENTRACION NO SUPERIOR AL 10% EN DISOLVENTE ORGANICO.</p>
<p>15.- CONSOLIDACION Y TRATAMIENTO DE ELEMENTOS DE MADERA ANTIGUOS, CON SUSTITUCION EN CASO<br>NECESARIO, PREVIO APEO, (VIGAS DE ULTIMA PLANTA).</p>
<p>16.- AL INTERIOR, LEVANTADO DE SOLADOS EXISTENTES, MORTERO DE AGARRE, HASTA NIVEL ORIGINAL Y COLO-<br>CACION DE NUEVOS SOLADOS CON BALDOSA TRADICIONAL, SEGUN D.F. (PLANTAS INTERIORES<br>NIVELES 1 Y 2 ).</p>
<p>17.- LEVANTADO DE REDES DE INSTALACION ELECTRICA OBSOLETA Y REALIZACION DE UNA NUEVA INSTALACION<br>ELECTRICA Y DE ILUMINACION INDICADA.</p>
<p>18.- COLOCACION DE ANDAMIAJES INTERIORES Y EXTERIORES, ASI COMO TODAS LAS MEDIDAS DE SEGURIDAD<br>NECESARIAS PARA EL TRABAJO.</p>
<p>19.- ESCALERA EXTERIOR CONSTRUIDA CON LOS SIGUIENTES ELEMENTOS: - FORMACION ZANCAS MEDIANTE PERFILES<br>DEL 180/10/8 mm, ANCLADOS AL MURO VERTICAL Y DEBIDA RETIRADA CON PLACAS DE ANCLAJE EN PALASTRO<br>400/450/15 mm.; PELDAÑOS MEDIANTE CHAPAS DE ANCLAJE COLOCADOS CON PERFILES ANGULARES<br>TIPO VERJA MODELO - FORMACION DE ANCHO TIPO CLAVOS DE RECUBRIMIENTO LOS DOS PIES.</p>
<p>20.- ARQUETA SUMIDERO DE AGUA PREPARADO 100x100 - VERTIDO DEL AGUA A UNA ARQUETA SIFONICA<br>REJILLA PLANA DESMONTABLE SOBRE CONTRACERCO EN PERFIL LAMINADO L 20/3 mm. CON PATILLAS DE ANCLAJE</p>
</div>
</body></html>
